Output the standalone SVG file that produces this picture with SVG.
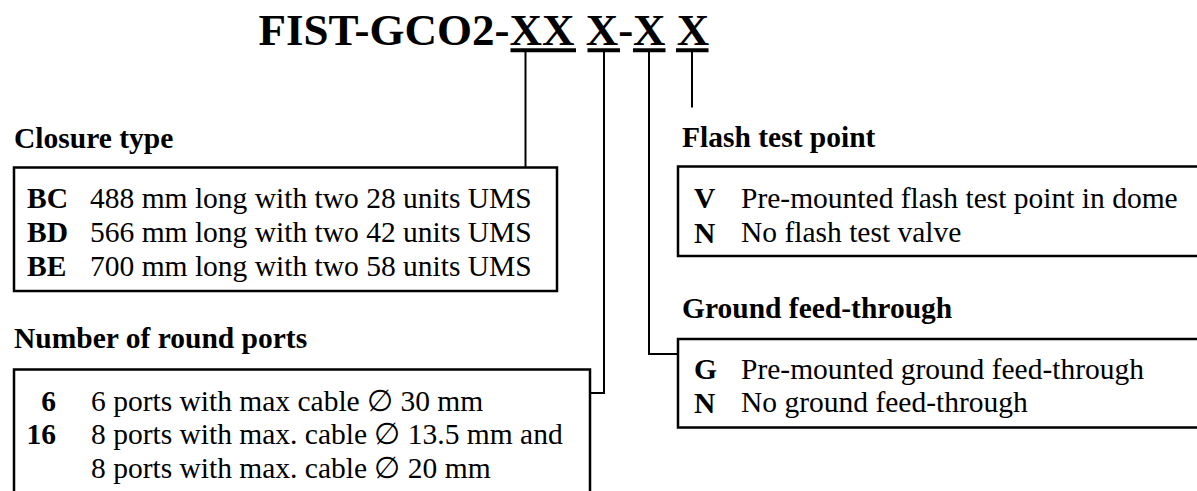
<svg xmlns="http://www.w3.org/2000/svg" width="1197" height="491" viewBox="0 0 1197 491">
<style>
text{font-family:"Liberation Serif","Times New Roman",serif;fill:#000}
.t{font-size:45px;font-weight:bold}
.h{font-size:29.5px;font-weight:bold}
.c{font-size:29.5px;font-weight:bold}
.d{font-size:29.5px}
.box{fill:#fff;stroke:#000;stroke-width:2.5}
.ln{fill:none;stroke:#000;stroke-width:2}
.ul{stroke:#000;stroke-width:4}
</style>
<rect width="1197" height="491" fill="#fff"/>
<g id="title">
<text class="t" x="258.5" y="45">FIST-GCO2-XX X-X X</text>
<line class="ul" x1="510.5" y1="50.3" x2="576" y2="50.3"/>
<line class="ul" x1="587.5" y1="50.3" x2="620" y2="50.3"/>
<line class="ul" x1="633" y1="50.3" x2="665.5" y2="50.3"/>
<line class="ul" x1="676" y1="50.3" x2="708.5" y2="50.3"/>
</g>
<g id="connectors">
<polyline class="ln" points="525.5,52 525.5,167"/>
<polyline class="ln" points="604,52 604,393 590,393"/>
<polyline class="ln" points="649,52 649,354 678,354"/>
<polyline class="ln" points="692,52 692,107.5"/>
</g>
<g id="closure">
<text class="h" x="14" y="148">Closure type</text>
<rect class="box" x="14" y="167.5" width="543" height="123.5"/>
<text class="c" x="27" y="207.5">BC</text><text class="d" x="90" y="207.5">488 mm long with two 28 units UMS</text>
<text class="c" x="27" y="241.5">BD</text><text class="d" x="90" y="241.5">566 mm long with two 42 units UMS</text>
<text class="c" x="27" y="275.5">BE</text><text class="d" x="90" y="275.5">700 mm long with two 58 units UMS</text>
</g>
<g id="ports">
<text class="h" x="14" y="348">Number of round ports</text>
<rect class="box" x="14" y="369.5" width="576" height="140"/>
<text class="c" x="56" y="410.5" text-anchor="end">6</text><text class="d" x="91" y="410.5">6 ports with max cable ∅ 30 mm</text>
<text class="c" x="56" y="444" text-anchor="end">16</text><text class="d" x="91" y="444">8 ports with max. cable ∅ 13.5 mm and</text>
<text class="d" x="91" y="478">8 ports with max. cable ∅ 20 mm</text>
</g>
<g id="flash">
<text class="h" x="682" y="147">Flash test point</text>
<rect class="box" x="678" y="166.5" width="540" height="89.5"/>
<text class="c" x="694" y="208">V</text><text class="d" x="741" y="208">Pre-mounted flash test point in dome</text>
<text class="c" x="694" y="243">N</text><text class="d" x="741" y="242">No flash test valve</text>
</g>
<g id="ground">
<text class="h" x="682" y="318">Ground feed-through</text>
<rect class="box" x="678" y="339" width="540" height="88.5"/>
<text class="c" x="694" y="378.5">G</text><text class="d" x="741" y="378.5">Pre-mounted ground feed-through</text>
<text class="c" x="694" y="413">N</text><text class="d" x="741" y="412">No ground feed-through</text>
</g>
</svg>
